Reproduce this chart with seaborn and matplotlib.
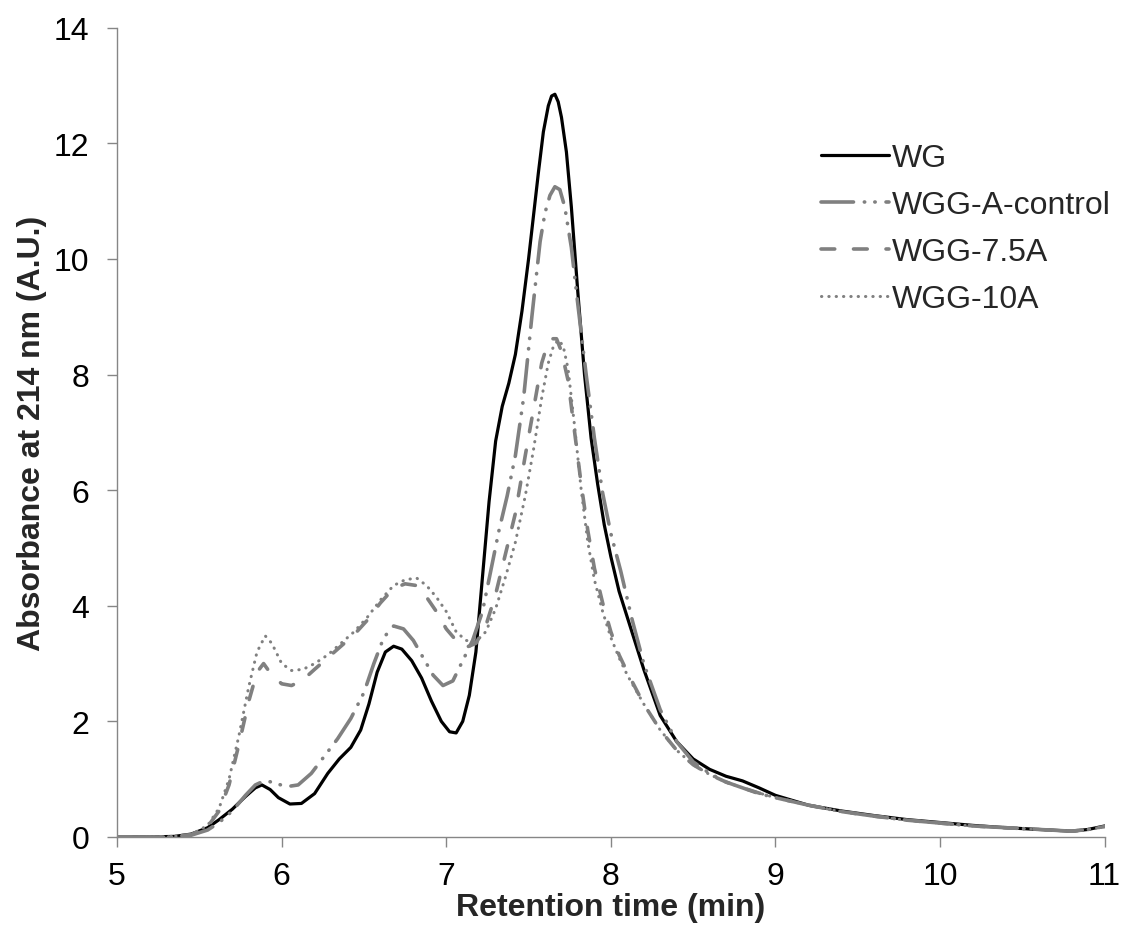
import numpy as np
import pandas as pd
import matplotlib
matplotlib.use('Agg')
import matplotlib.pyplot as plt
import seaborn as sns

# retention time (min) / absorbance (A.U.)
wg_x = [5.0, 5.2, 5.35, 5.45, 5.55, 5.62, 5.7, 5.78, 5.84, 5.88, 5.93, 5.98, 6.05, 6.12, 6.2,
        6.28, 6.35, 6.42, 6.48, 6.53, 6.58, 6.63, 6.68, 6.73, 6.79, 6.85, 6.91, 6.97, 7.02,
        7.06, 7.1, 7.14, 7.18, 7.22, 7.26, 7.3, 7.34, 7.38, 7.42, 7.46, 7.5, 7.53, 7.56,
        7.59, 7.62, 7.64, 7.66, 7.68, 7.7, 7.73, 7.76, 7.8, 7.84, 7.88, 7.92, 7.96, 8.0,
        8.05, 8.1, 8.15, 8.2, 8.3, 8.4, 8.5, 8.6, 8.7, 8.8, 8.9, 9.0, 9.2, 9.4, 9.6, 9.8,
        10.0, 10.2, 10.4, 10.6, 10.8, 10.9, 11.0]
wg_y = [0.0, 0.0, 0.01, 0.05, 0.16, 0.3, 0.48, 0.7, 0.85, 0.9, 0.82, 0.68, 0.57, 0.58, 0.75,
        1.1, 1.35, 1.55, 1.85, 2.3, 2.85, 3.2, 3.3, 3.25, 3.05, 2.75, 2.35, 2.0, 1.82,
        1.8, 2.0, 2.45, 3.2, 4.5, 5.8, 6.85, 7.45, 7.85, 8.35, 9.1, 10.0, 10.75, 11.5,
        12.2, 12.65, 12.82, 12.85, 12.72, 12.45, 11.85, 10.9, 9.4, 8.0, 6.9, 6.1, 5.4, 4.85,
        4.25, 3.8, 3.35, 2.9, 2.1, 1.65, 1.35, 1.17, 1.05, 0.97, 0.85, 0.72, 0.55, 0.45, 0.37, 0.3,
        0.25, 0.2, 0.16, 0.13, 0.1, 0.13, 0.19]

ctrl_x = [5.0, 5.3, 5.45, 5.55, 5.62, 5.7, 5.78, 5.84, 5.9, 5.96, 6.03, 6.1, 6.18, 6.26, 6.34,
          6.42, 6.5, 6.56, 6.62, 6.68, 6.74, 6.8, 6.86, 6.92, 6.98, 7.04, 7.1, 7.16, 7.22,
          7.27, 7.32, 7.37, 7.42, 7.47, 7.52, 7.57, 7.6, 7.63, 7.66, 7.69, 7.72, 7.76, 7.8,
          7.85, 7.9, 7.95, 8.0, 8.06, 8.13, 8.2, 8.3, 8.4, 8.5, 8.6, 8.7, 8.8, 8.9, 9.0, 9.2,
          9.4, 9.6, 9.8, 10.0, 10.2, 10.4, 10.6, 10.8, 10.9, 11.0]
ctrl_y = [0.0, 0.0, 0.03, 0.12, 0.25, 0.45, 0.72, 0.9, 0.98, 0.93, 0.87, 0.9, 1.1, 1.4, 1.7,
          2.05, 2.5, 3.0, 3.45, 3.65, 3.6, 3.4, 3.1, 2.8, 2.62, 2.7, 3.05, 3.4, 3.9,
          4.6, 5.3, 5.9, 6.6, 7.6, 9.0, 10.3, 10.8, 11.1, 11.25, 11.2, 10.9, 10.2, 9.2,
          8.0, 6.9, 5.95, 5.25, 4.6, 3.75, 3.0, 2.2, 1.65, 1.3, 1.1, 0.95, 0.85, 0.75, 0.68, 0.55,
          0.44, 0.36, 0.29, 0.24, 0.19, 0.16, 0.13, 0.1, 0.13, 0.18]

a75_x = [5.0, 5.3, 5.45, 5.55, 5.62, 5.68, 5.74, 5.8, 5.85, 5.89, 5.94, 6.0, 6.06, 6.13, 6.2,
         6.28, 6.36, 6.44, 6.52, 6.6, 6.68, 6.75, 6.82, 6.88, 6.94, 7.0, 7.06, 7.12, 7.18,
         7.24, 7.3, 7.36, 7.42, 7.48, 7.53, 7.58, 7.61, 7.64, 7.67, 7.7, 7.74, 7.78, 7.82,
         7.86, 7.9, 7.95, 8.0, 8.05, 8.1, 8.2, 8.3, 8.4, 8.5, 8.6, 8.7, 8.8, 8.9, 9.0, 9.2,
         9.4, 9.6, 9.8, 10.0, 10.2, 10.4, 10.6, 10.8, 10.9, 11.0]
a75_y = [0.0, 0.0, 0.04, 0.18, 0.45, 0.9, 1.6, 2.35, 2.85, 3.0, 2.8, 2.65, 2.62, 2.72, 2.9,
         3.1, 3.3, 3.5, 3.75, 4.05, 4.3, 4.38, 4.35, 4.15, 3.9, 3.6, 3.4, 3.28, 3.35,
         3.65, 4.2, 4.9, 5.6, 6.6, 7.4, 8.2, 8.48, 8.62, 8.62, 8.4, 7.9, 7.0, 6.1,
         5.3, 4.65, 4.05, 3.55, 3.15, 2.85, 2.3, 1.85, 1.5, 1.25, 1.08, 0.95, 0.85, 0.76, 0.68, 0.55,
         0.44, 0.36, 0.29, 0.24, 0.19, 0.16, 0.13, 0.1, 0.13, 0.18]

a10_x = [5.0, 5.3, 5.45, 5.55, 5.62, 5.68, 5.74, 5.8, 5.85, 5.9, 5.94, 6.0, 6.06, 6.13, 6.2,
         6.28, 6.36, 6.44, 6.52, 6.6, 6.68, 6.75, 6.82, 6.88, 6.94, 7.0, 7.06, 7.12, 7.18,
         7.24, 7.3, 7.36, 7.42, 7.48, 7.53, 7.58, 7.62, 7.65, 7.68, 7.71, 7.74, 7.78, 7.82,
         7.86, 7.9, 7.95, 8.0, 8.05, 8.1, 8.2, 8.3, 8.4, 8.5, 8.6, 8.7, 8.8, 8.9, 9.0, 9.2,
         9.4, 9.6, 9.8, 10.0, 10.2, 10.4, 10.6, 10.8, 10.9, 11.0]
a10_y = [0.0, 0.0, 0.04, 0.2, 0.5, 1.0, 1.75, 2.6, 3.2, 3.48, 3.35, 3.0, 2.88, 2.9, 3.0,
         3.15, 3.35, 3.55, 3.8, 4.1, 4.35, 4.45, 4.48, 4.35, 4.15, 3.9, 3.55, 3.4, 3.38,
         3.55, 3.95, 4.5, 5.1, 5.9, 6.7, 7.6, 8.2, 8.48, 8.6, 8.5, 8.1, 7.1, 6.0,
         5.1, 4.45, 3.9, 3.45, 3.1, 2.8, 2.3, 1.85, 1.5, 1.25, 1.08, 0.95, 0.85, 0.76, 0.68, 0.55,
         0.44, 0.36, 0.29, 0.24, 0.19, 0.16, 0.13, 0.1, 0.13, 0.18]

labels = ['WG', 'WGG-A-control', 'WGG-7.5A', 'WGG-10A']

sns.set_style('ticks')
plt.rcParams['font.family'] = ['Liberation Sans', 'DejaVu Sans']

fig = plt.figure(figsize=(11.26, 9.29), dpi=100)
ax = fig.add_axes([0.104, 0.098, 0.877, 0.871])

gray = '#808080'
series = [
    (wg_x, wg_y, labels[0], 'black', 2.3, None),
    (ctrl_x, ctrl_y, labels[1], gray, 2.6, (0, (9, 3, 0.1, 2.8, 0.1, 3))),
    (a75_x, a75_y, labels[2], gray, 2.6, (0, (3.8, 5.2))),
    (a10_x, a10_y, labels[3], gray, 2.2, (0, (0.1, 2.3))),
]
for xs, ys, name, col, lw, ls in series:
    sns.lineplot(x=xs, y=ys, color=col, linewidth=lw, label=name, ax=ax,
                 sort=False, estimator=None)
    line = ax.lines[-1]
    line.set_solid_joinstyle('round')
    if ls is not None:
        line.set_linestyle(ls)
        line.set_dash_capstyle('round')

ax.set_xlim(5, 11)
ax.set_ylim(0, 14)
ax.set_xticks(range(5, 12))
ax.set_yticks(range(0, 15, 2))
sns.despine(ax=ax)
for s in ['left', 'bottom']:
    ax.spines[s].set_color('#868686')
    ax.spines[s].set_linewidth(1.0)
ax.tick_params(axis='both', colors='#868686', labelcolor='black', length=7, width=1.0,
               labelsize=23)
ax.tick_params(axis='x', pad=10)
ax.tick_params(axis='y', pad=13)

ax.set_xlabel('Retention time (min)', fontsize=23, fontweight='bold', labelpad=1)
ax.set_ylabel('Absorbance at 214 nm (A.U.)', fontsize=23, fontweight='bold', labelpad=5)

leg = ax.legend(loc='upper left', bbox_to_anchor=(0.729, 0.845),
                bbox_transform=fig.transFigure, frameon=False, fontsize=23,
                handlelength=2.13, handletextpad=0.1, labelspacing=0.53,
                borderpad=0, borderaxespad=0)
for h in leg.get_lines():
    h.set_dash_capstyle('round')

fig.savefig('out.png', dpi=100)
